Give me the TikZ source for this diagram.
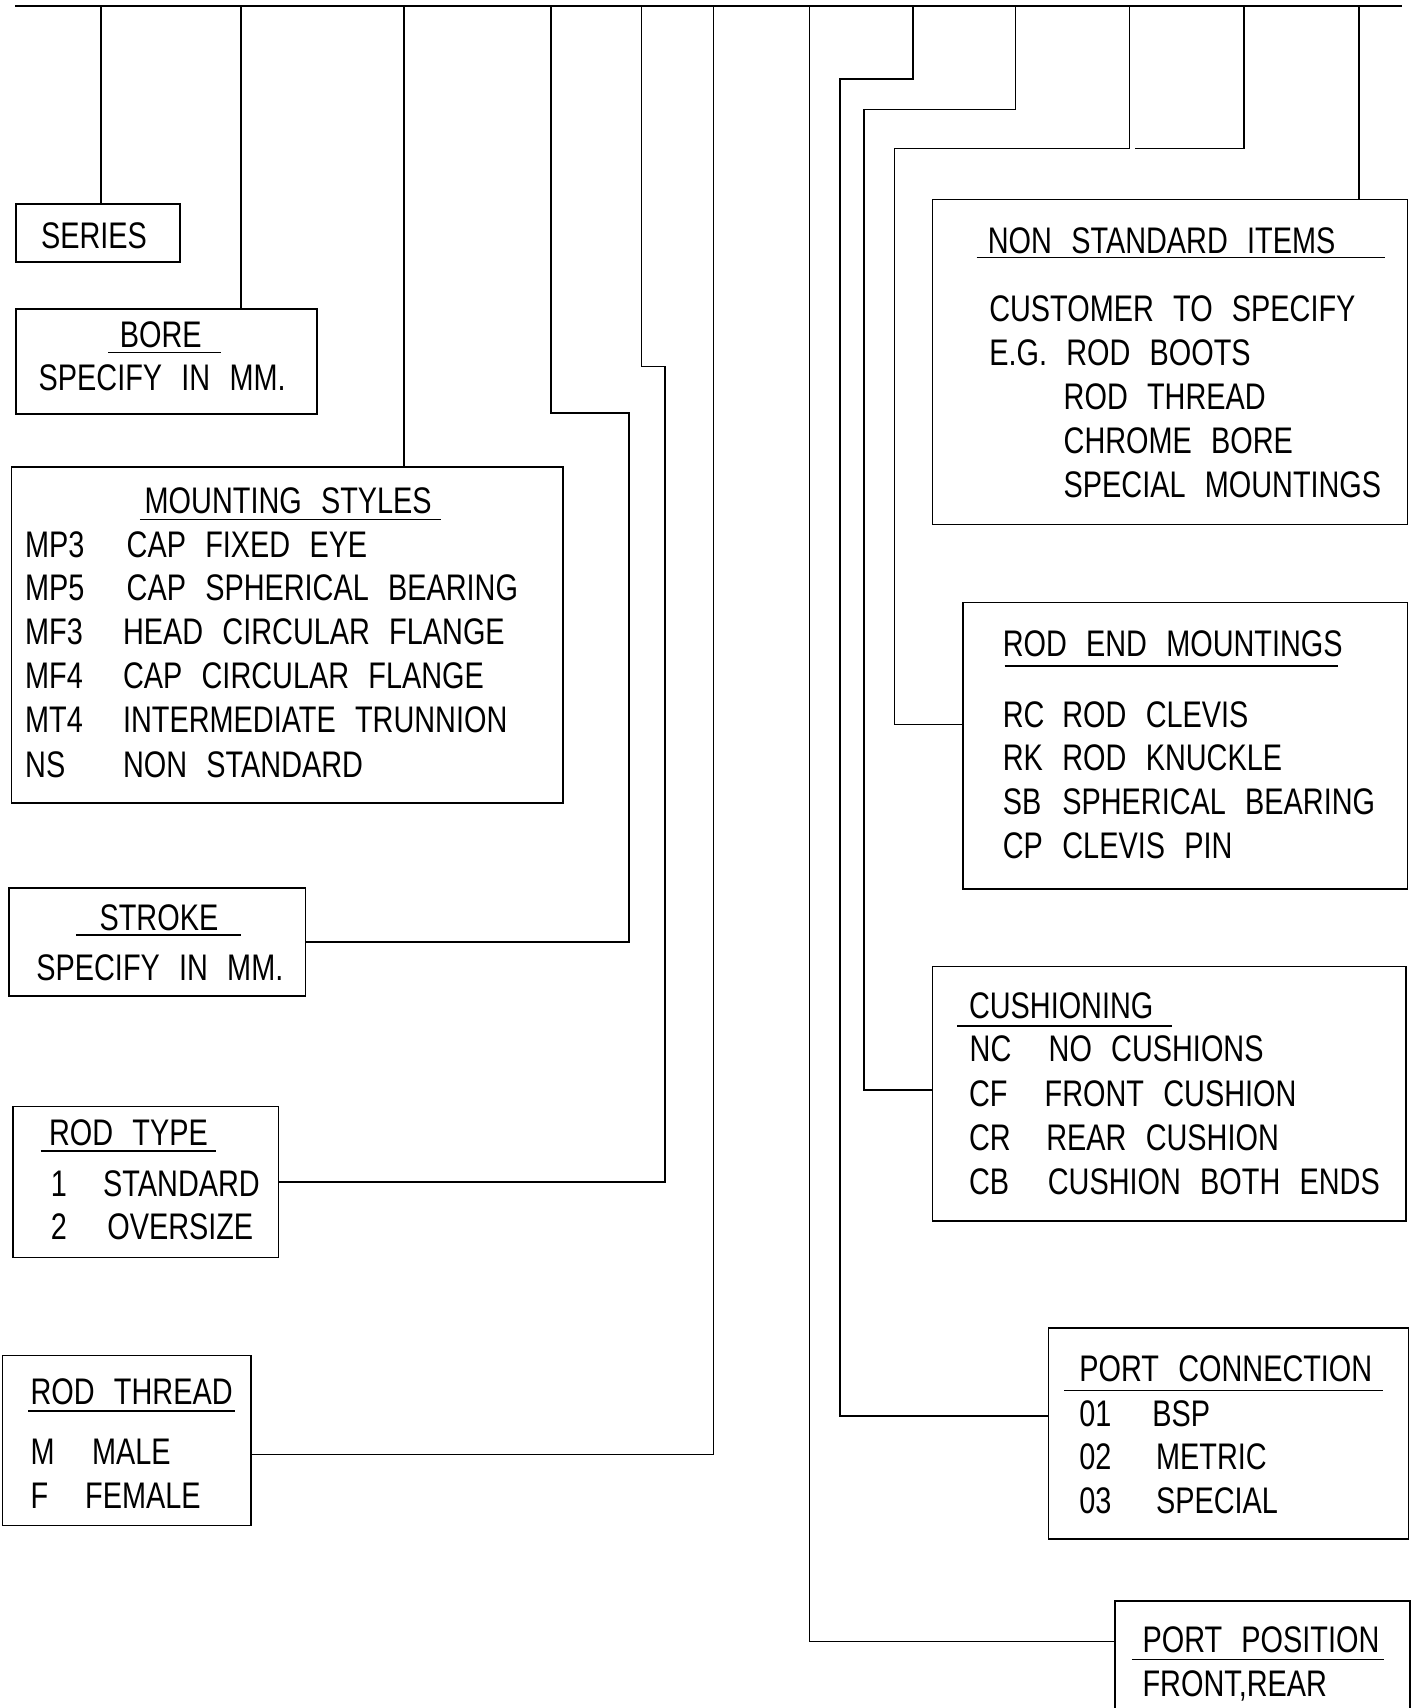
\documentclass[tikz,border=0pt]{standalone}
\usepackage{fontspec}
\setmainfont{Liberation Sans}[FakeStretch=0.78, WordSpace=2.4]
\usetikzlibrary{fit}
\tikzset{
  box/.style={draw, line width=0.75pt, inner sep=0pt, rectangle},
  conn/.style={draw, line width=0.75pt},
  lbl/.style={anchor=base west, inner sep=0pt, font=\fontsize{18.5}{22}\selectfont},
  uline/.style={line width=0.75pt},
}
\begin{document}
\begin{tikzpicture}[x=0.5pt,y=-0.5pt]
\useasboundingbox[fill=white] (0,0) rectangle (1414,1708);

% ---------------- boxes ----------------
\node[box, fit={(16,204) (180,262)}] (series) {};
\node[box, fit={(16,309) (317,414)}] (bore) {};
\node[box, fit={(11.3,466.8) (562.9,802.8)}] (mount) {};
\node[box, fit={(9,888.2) (305.3,996.1)}] (stroke) {};
\node[box, fit={(13.1,1106.6) (278.3,1257.7)}] (rodtype) {};
\node[box, fit={(2.7,1355.5) (251.2,1525.4)}] (rodthread) {};
\node[box, fit={(932.5,199.3) (1407.4,524.6)}] (nonstd) {};
\node[box, fit={(963.2,602.3) (1407.4,889)}] (rodend) {};
\node[box, fit={(932.5,966.6) (1406,1220.8)}] (cushion) {};
\node[box, fit={(1048.4,1327.8) (1408.3,1538.8)}] (portconn) {};
\node[box, fit={(1115,1601) (1410,1714)}] (portpos) {};

% ---------------- texts ----------------
\node[lbl] (seriesT) at (40.6,248.3) {SERIES};

\node[lbl] (boreT) at (119.5,347) {BORE};
\draw[uline] (108,352.3) -- (220.5,352.3);
\node[lbl] (boreS) at (38.3,390.7) {SPECIFY IN MM.};

\node[lbl] (mountT) at (144.3,513.1) {MOUNTING STYLES};
\draw[uline] (139.8,519.6) -- (440.6,519.6);
\node[lbl] (m1a) at (24.8,557.2) {MP3};
\node[lbl] (m1b) at (126.3,557.2) {CAP FIXED EYE};
\node[lbl] (m2a) at (24.8,600) {MP5};
\node[lbl] (m2b) at (126.3,600) {CAP SPHERICAL BEARING};
\node[lbl] (m3a) at (24.8,644) {MF3};
\node[lbl] (m3b) at (122.7,644) {HEAD CIRCULAR FLANGE};
\node[lbl] (m4a) at (24.8,688) {MF4};
\node[lbl] (m4b) at (122.7,688) {CAP CIRCULAR FLANGE};
\node[lbl] (m5a) at (24.8,732.4) {MT4};
\node[lbl] (m5b) at (122.7,732.4) {INTERMEDIATE TRUNNION};
\node[lbl] (m6a) at (24.8,777.2) {NS};
\node[lbl] (m6b) at (122.7,777.2) {NON STANDARD};

\node[lbl] (strokeT) at (99.2,930.3) {STROKE};
\draw[uline] (75.8,934.9) -- (241.3,934.9);
\node[lbl] (strokeS) at (36,980) {SPECIFY IN MM.};

\node[lbl] (rtT) at (48.7,1145.7) {ROD TYPE};
\draw[uline] (40.6,1151.1) -- (215.6,1151.1);
\node[lbl] (rt1a) at (50.5,1196) {1};
\node[lbl] (rt1b) at (102.8,1196) {STANDARD};
\node[lbl] (rt2a) at (50.5,1239.7) {2};
\node[lbl] (rt2b) at (106.9,1239.7) {OVERSIZE};

\node[lbl] (rthT) at (30.2,1404.6) {ROD THREAD};
\draw[uline] (28,1410.9) -- (234.5,1410.9);
\node[lbl] (rth1a) at (30.2,1464.6) {M};
\node[lbl] (rth1b) at (91.6,1464.6) {MALE};
\node[lbl] (rth2a) at (30.2,1508.2) {F};
\node[lbl] (rth2b) at (84.8,1508.2) {FEMALE};

\node[lbl] (nsT) at (987.5,253.3) {NON STANDARD ITEMS};
\draw[uline] (976.7,257.7) -- (1384.9,257.7);
\node[lbl] (ns1) at (988.9,321.7) {CUSTOMER TO SPECIFY};
\node[lbl] (ns2) at (988.9,365) {E.G. ROD BOOTS};
\node[lbl] (ns3) at (1063.3,409.3) {ROD THREAD};
\node[lbl] (ns4) at (1063.3,453.3) {CHROME BORE};
\node[lbl] (ns5) at (1063.3,497.5) {SPECIAL MOUNTINGS};

\node[lbl] (reT) at (1002.4,656.7) {ROD END MOUNTINGS};
\draw[uline] (1004.7,666.2) -- (1337.5,666.2);
\node[lbl] (re1a) at (1002.4,727.5) {RC};
\node[lbl] (re1b) at (1062,727.5) {ROD CLEVIS};
\node[lbl] (re2a) at (1002.4,770.7) {RK};
\node[lbl] (re2b) at (1062,770.7) {ROD KNUCKLE};
\node[lbl] (re3a) at (1002.4,814.3) {SB};
\node[lbl] (re3b) at (1062,814.3) {SPHERICAL BEARING};
\node[lbl] (re4a) at (1002.4,858.7) {CP};
\node[lbl] (re4b) at (1062,858.7) {CLEVIS PIN};

\node[lbl] (cuT) at (968.6,1018.3) {CUSHIONING};
\draw[uline] (957.3,1026) -- (1171.5,1026);
\node[lbl] (cu1a) at (969.3,1061.7) {NC};
\node[lbl] (cu1b) at (1048.3,1061.7) {NO CUSHIONS};
\node[lbl] (cu2a) at (968.6,1106.6) {CF};
\node[lbl] (cu2b) at (1044.3,1106.6) {FRONT CUSHION};
\node[lbl] (cu3a) at (968.6,1150.7) {CR};
\node[lbl] (cu3b) at (1046,1150.7) {REAR CUSHION};
\node[lbl] (cu4a) at (968.6,1194.8) {CB};
\node[lbl] (cu4b) at (1047.5,1194.8) {CUSHION BOTH ENDS};

\node[lbl] (pcT) at (1079,1381.5) {PORT CONNECTION};
\draw[uline] (1064.2,1390.7) -- (1382.6,1390.7);
\node[lbl] (pc1a) at (1079,1426.8) {01};
\node[lbl] (pc1b) at (1152,1426.8) {BSP};
\node[lbl] (pc2a) at (1079,1469.6) {02};
\node[lbl] (pc2b) at (1155.7,1469.6) {METRIC};
\node[lbl] (pc3a) at (1079,1513.7) {03};
\node[lbl] (pc3b) at (1155.7,1513.7) {SPECIAL};

\node[lbl] (ppT) at (1142.2,1652.1) {PORT POSITION};
\draw[uline] (1131.8,1659.3) -- (1384.4,1659.3);
\node[lbl] (pp1) at (1142.2,1696.2) {FRONT,REAR};

% ---------------- connectors ----------------
\coordinate (busL) at (15,6);
\coordinate (busR) at (1402,6);
\draw[conn] (busL) -- (busR);

\coordinate (t1) at (101,6);
\draw[conn] (t1) -- (t1 |- series.north);
\coordinate (t2) at (241,6);
\draw[conn] (t2) -- (t2 |- bore.north);
\coordinate (t3) at (404,6);
\draw[conn] (t3) -- (t3 |- mount.north);

\coordinate (t4) at (551,6);
\coordinate (b4) at (629,413);
\draw[conn] (t4) |- (b4) |- (stroke.east);

\coordinate (t5) at (641.7,6);
\coordinate (b5) at (665,366.5);
\draw[conn] (t5) |- (b5) |- (rodtype.east);

\coordinate (t6) at (713.5,6);
\path (rodthread.east) ++(0,14) coordinate (e6);
\draw[conn] (t6) |- (e6);

\coordinate (t7) at (809.5,6);
\path (portpos.west) ++(0,-15.9) coordinate (e7);
\draw[conn] (t7) |- (e7);

\coordinate (t8) at (913,6);
\coordinate (b8) at (840,79);
\path (portconn.west) ++(0,-17.3) coordinate (e8);
\draw[conn] (t8) |- (b8) |- (e8);

\coordinate (t9) at (1015.5,6);
\coordinate (b9) at (864,109.3);
\path (cushion.west) ++(0,-3.7) coordinate (e9);
\draw[conn] (t9) |- (b9) |- (e9);

\coordinate (t10) at (1129.6,6);
\coordinate (b10) at (894.6,148.3);
\path (rodend.west) ++(0,-21.2) coordinate (e10);
\draw[conn] (t10) |- (b10) |- (e10);

\coordinate (t11) at (1244,6);
\coordinate (e11) at (1134.5,148.3);
\draw[conn] (t11) |- (e11);

\coordinate (t12) at (1359,6);
\draw[conn] (t12) -- (t12 |- nonstd.north);
\end{tikzpicture}
\end{document}
